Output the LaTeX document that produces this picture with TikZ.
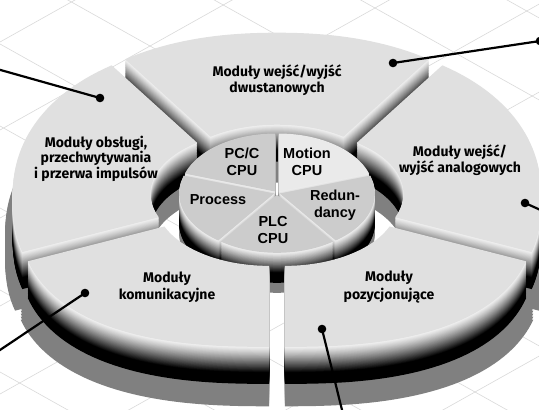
\documentclass[tikz,border=0pt]{standalone}
\usepackage{fontspec}
\newfontfamily\outerfont{Fira Sans}
\newfontfamily\innerfont{Liberation Sans}
\definecolor{walltop}{RGB}{242,242,242}
\definecolor{ringtop}{RGB}{224,224,224}
\definecolor{pietop}{RGB}{204,204,204}
\definecolor{pielight}{RGB}{234,234,234}
\definecolor{shadowgray}{RGB}{128,128,128}
\definecolor{gridgray}{RGB}{218,218,218}

% build outline of a ring segment once: #1 a1, #2 a2, #3 #4 outer scale (x,y)
\newcommand\buildring[4]{%
  \pgfmathsetmacro\rgM{(#1+#2)/2}%
  \pgfmathsetmacro\rgDX{14*cos(\rgM)}%
  \pgfmathsetmacro\rgDY{-8.3*sin(\rgM)}%
  \foreach \k in {0,...,40}{%
    \pgfmathsetmacro\rgT{#1+(#2-#1)*\k/40}%
    \pgfmathsetmacro\rgS{sin(\rgT)}%
    \pgfmathsetmacro\rgC{cos(\rgT)}%
    \pgfmathsetmacro\rgN{\rgS>0 ? 2.2 : 2.5}%
    \pgfmathsetmacro\rgB{\rgS>0 ? 159 : 140}%
    \pgfmathsetmacro\rgF{(abs(\rgC)+0.0001)^\rgN + (abs(\rgS)+0.0001)^\rgN}%
    \pgfmathsetmacro\rgF{\rgF^(-1/\rgN)}%
    \pgfmathsetmacro\rgX{277+\rgDX+#3*251*\rgC*\rgF}%
    \pgfmathsetmacro\rgY{200+\rgDY-#4*\rgB*\rgS*\rgF}%
    \ifnum\k=0 \xdef\rgPath{(\rgX,\rgY)}\else\xdef\rgPath{\rgPath -- (\rgX,\rgY)}\fi
  }%
  \foreach \k in {0,...,24}{%
    \pgfmathsetmacro\rgT{#2-(#2-#1)*\k/24}%
    \pgfmathsetmacro\rgX{277+\rgDX+113*cos(\rgT)}%
    \pgfmathsetmacro\rgY{196+\rgDY-63*sin(\rgT)}%
    \xdef\rgPath{\rgPath -- (\rgX,\rgY)}%
  }%
  \xdef\rgPath{\rgPath -- cycle}}

\newcommand\buildpie[2]{%
  \pgfmathsetmacro\rgM{(#1+#2)/2}%
  \pgfmathsetmacro\rgDX{3*cos(\rgM)}%
  \pgfmathsetmacro\rgDY{-1.8*sin(\rgM)}%
  \pgfmathsetmacro\rgX{277+\rgDX}%
  \pgfmathsetmacro\rgY{193+\rgDY}%
  \xdef\rgPath{(\rgX,\rgY)}%
  \foreach \k in {0,...,30}{%
    \pgfmathsetmacro\rgT{#1+(#2-#1)*\k/30}%
    \pgfmathsetmacro\rgX{277+\rgDX+95*cos(\rgT)}%
    \pgfmathsetmacro\rgY{193+\rgDY-58*sin(\rgT)}%
    \xdef\rgPath{\rgPath -- (\rgX,\rgY)}%
  }%
  \xdef\rgPath{\rgPath -- cycle}}

\newcommand\ringshadow[2]{%
  \buildring{#1}{#2}{1.03}{1.01}%
  \foreach \zz in {37,40,...,58}{%
    \fill[shadowgray, shift={(0,\zz)}] \rgPath;
  }}
\newcommand\ringpiece[3]{%
  \buildring{#1}{#2}{1}{1}%
  \foreach \i in {50,49,...,1}{%
    \pgfmathsetmacro\rgZ{37*\i/50}%
    \pgfmathsetmacro\rgP{min(100,100*(\i/35)^1.2)}%
    \fill[black!\rgP!walltop, shift={(0,\rgZ)}] \rgPath;
  }%
  \fill[#3] \rgPath;}
\newcommand\pieshadow[2]{%
  \buildpie{#1}{#2}%
  \foreach \zz in {30,32,...,40}{%
    \fill[shadowgray, shift={(0,\zz)}] \rgPath;
  }}
\newcommand\piepiece[3]{%
  \buildpie{#1}{#2}%
  \foreach \i in {40,39,...,1}{%
    \pgfmathsetmacro\rgZ{30*\i/40}%
    \pgfmathsetmacro\rgP{min(100,100*(\i/27)^1.2)}%
    \fill[black!\rgP!walltop, shift={(0,\rgZ)}] \rgPath;
  }%
  \fill[#3] \rgPath;}

\begin{document}
\begin{tikzpicture}[x=1pt,y=-1pt,
  dot/.style={circle,fill=black,inner sep=0pt,minimum size=8.6pt},
  callout/.style={line width=2.2pt,black},
  gridline/.style={gridgray,line width=0.6pt},
  outerlabel/.style={align=center,text=black,inner sep=0pt},
  innerlabel/.style={font=\innerfont\bfseries\fontsize{14.5}{17}\selectfont,align=center,text=black,inner sep=0pt}]

\useasboundingbox[fill=white] (0,0) rectangle (539,410);

% background grid
\foreach \a in {-284,-202,-120,-38,44,126,208,290,372,454}
  \draw[gridline] (0,\a) -- (539,{\a+0.56*539});
\foreach \b in {42,130,218,306,394,482,570,658,746,834}
  \draw[gridline] (0,\b) -- (539,{\b-0.56*539});

% shadows
\ringshadow{54}{126}
\ringshadow{126}{202}
\ringshadow{-22}{54}
\ringshadow{202}{270}
\ringshadow{270}{338}
\pieshadow{162}{234}
\pieshadow{234}{306}
\pieshadow{-54}{18}

% back ring segments
\ringpiece{54}{126}{ringtop}
\ringpiece{126}{202}{ringtop}
\ringpiece{-22}{54}{ringtop}

% inner pie
\piepiece{90}{162}{pietop}
\piepiece{18}{90}{pielight}
\piepiece{162}{234}{pietop}
\piepiece{-54}{18}{pietop}
\piepiece{234}{306}{pietop}

% front ring segments
\ringpiece{202}{270}{ringtop}
\ringpiece{270}{338}{ringtop}

% labels
\node[outerlabel,font=\outerfont\bfseries\fontsize{14}{16}\selectfont] (top) at (277,80) {Moduły wejść/wyjść\\dwustanowych};
\node[outerlabel,font=\outerfont\bfseries\fontsize{14}{14.5}\selectfont] (obs) at (96,159) {Moduły obsługi,\\przechwytywania\\i przerwa impulsów};
\node[outerlabel,font=\outerfont\bfseries\fontsize{14}{14.5}\selectfont] (ana) at (460,160) {Moduły wejść/\\wyjść analogowych};
\node[outerlabel,font=\outerfont\bfseries\fontsize{14}{17}\selectfont] (kom) at (167,287) {Moduły\\komunikacyjne};
\node[outerlabel,font=\outerfont\bfseries\fontsize{14}{17.5}\selectfont] (poz) at (389,287) {Moduły\\pozycjonujące};
\node[innerlabel] (pcc) at (242,162) {PC/C\\CPU};
\node[innerlabel] (mot) at (307,162) {Motion\\CPU};
\node[innerlabel] (red) at (335,205) {Redun-\\dancy};
\node[innerlabel] (pro) at (218,200) {Process};
\node[innerlabel] (plc) at (273,230) {PLC\\CPU};

% callouts
\node[dot] (d1) at (100,98) {};
\coordinate (e1) at (-3,69);
\draw[callout] (d1.center) -- (e1);
\node[dot] (d2) at (393,63) {};
\node[dot] (d2e) at (540,41) {};
\draw[callout] (d2.center) -- (d2e.center);
\node[dot] (d3) at (525,203) {};
\coordinate (e3) at (545,212);
\draw[callout] (d3.center) -- (e3);
\node[dot] (d4) at (85,293) {};
\coordinate (e4) at (-3,352);
\draw[callout] (d4.center) -- (e4);
\node[dot] (d5) at (322,329) {};
\coordinate (e5) at (343,414);
\draw[callout] (d5.center) -- (e5);
\end{tikzpicture}
\end{document}
